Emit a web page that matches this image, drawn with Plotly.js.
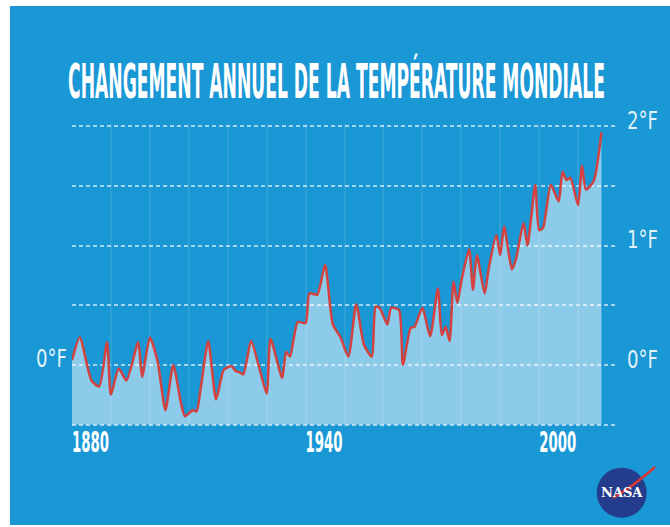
<!DOCTYPE html>
<html><head><meta charset="utf-8">
<script src="https://cdn.plot.ly/plotly-3.0.1.min.js"></script>
<style>
html,body{margin:0;padding:0;background:#fff;width:670px;height:527px;overflow:hidden}
#chart{position:absolute;left:10px;top:6px;width:660px;height:519px}
</style></head><body><div id="chart"></div>
<script>
// ---- data (°F change) ----
const years = [1880,1882,1885,1887,1889,1890,1892,1894,1897,1898,1900,1902,1904,1906,1908,1909,1911,1912,1913,1915,1917,1919,1921,1922,1923,1924,1926,1928,1930,1931,1934,1935,1936,1938,1940,1941,1943,1945,1947,1949,1951,1953,1955,1957,1958,1959,1961,1962,1964,1965,1967,1968,1970,1972,1974,1975,1976,1977,1978,1979,1980,1982,1983,1984,1986,1987,1989,1990,1991,1993,1994,1996,1997,1999,2000,2001,2003,2005,2006,2007,2008,2010,2011,2012,2014,2016];
const tempF = [0.04,0.23,-0.13,-0.18,0.19,-0.25,-0.03,-0.13,0.19,-0.10,0.23,0.03,-0.38,0.00,-0.32,-0.43,-0.38,-0.39,-0.21,0.20,-0.29,-0.04,-0.01,-0.05,-0.06,-0.08,0.20,-0.01,-0.24,0.22,-0.11,0.11,0.07,0.36,0.35,0.60,0.59,0.84,0.34,0.23,0.07,0.51,0.17,0.07,0.49,0.48,0.34,0.48,0.46,0.00,0.31,0.32,0.48,0.24,0.64,0.25,0.32,0.20,0.70,0.52,0.70,0.97,0.63,0.92,0.60,0.80,1.09,0.92,1.16,0.80,0.88,1.19,1.00,1.51,1.13,1.15,1.51,1.37,1.62,1.55,1.57,1.34,1.67,1.47,1.54,1.95];
const xTickVals = [1880,1890,1900,1910,1920,1930,1940,1950,1960,1970,1980,1990,2000,2010,2020];
const xTickText = ['1880','','','','','','1940','','','','','','2000','',''];
const yTickVals = [-0.5,0,0.5,1,1.5,2];
const yTickText = ['','0°F','','1°F','','2°F'];
const leftTickVals = [0];
const leftTickText = ['0°F'];
const titleText = 'CHANGEMENT ANNUEL DE LA TEMPÉRATURE MONDIALE';
const X_RANGE = [1880, 2020];
const Y_RANGE = [-0.52, 2.02];
const FILL_BASE = -0.5;

const FONT = '"DejaVu Sans Condensed", "Liberation Sans Narrow", "DejaVu Sans", sans-serif';
const BG = '#1a97d5';

const traces = [
  {x: years, y: years.map(() => FILL_BASE), mode: 'lines', line: {width: 0, color: 'rgba(0,0,0,0)'}, hoverinfo: 'skip', showlegend: false},
  {x: years, y: tempF, mode: 'lines', fill: 'tonexty', fillcolor: 'rgba(255,255,255,0.5)',
   line: {color: '#d4423f', width: 2.5, shape: 'spline', smoothing: 0.6}, showlegend: false},
  {x: [X_RANGE[0]], y: [0], yaxis: 'y2', mode: 'markers', marker: {opacity: 0}, hoverinfo: 'skip', showlegend: false}
];

const layout = {
  width: 660, height: 519,
  paper_bgcolor: BG, plot_bgcolor: 'rgba(0,0,0,0)',
  margin: {l: 62, r: 53, t: 118.3, b: 98.3},
  showlegend: false,
  title: {text: titleText, font: {family: FONT, size: 48, color: '#ffffff', weight: 700},
          x: 0.4947, xref: 'container', xanchor: 'center', y: 0.855, yref: 'container', yanchor: 'middle'},
  xaxis: {range: X_RANGE, tickvals: xTickVals, ticktext: xTickText, showgrid: true,
          gridcolor: 'rgba(255,255,255,0.09)', gridwidth: 2, zeroline: false, showline: false, ticks: '',
          ticklabelposition: 'outside right', ticklabelstandoff: -5,
          tickfont: {family: FONT, size: 29, color: '#ffffff', weight: 700}, fixedrange: true},
  yaxis: {range: Y_RANGE, side: 'right', tickvals: yTickVals, ticktext: yTickText,
          gridcolor: 'rgba(255,255,255,0.6)', gridwidth: 2, griddash: '4px,3px', zeroline: false, showline: false,
          ticks: '', ticklabelposition: 'outside top', ticklabelstandoff: 9, ticklabelshift: 11,
          tickfont: {family: FONT, size: 24, color: 'rgba(255,255,255,0.9)'}, fixedrange: true},
  yaxis2: {range: Y_RANGE, overlaying: 'y', side: 'left', tickvals: leftTickVals, ticktext: leftTickText,
           showgrid: false, zeroline: false, showline: false, ticks: '', ticklabelposition: 'outside top',
           ticklabelstandoff: 4, ticklabelshift: 10,
           tickfont: {family: FONT, size: 24, color: 'rgba(255,255,255,0.9)'}, fixedrange: true},
  shapes: [
    {type: 'circle', xref: 'paper', yref: 'paper', xsizemode: 'pixel', ysizemode: 'pixel', xanchor: 1, yanchor: 0,
     x0: -20.3, x1: 29.7, y0: -90.7, y1: -40.7, fillcolor: '#233d8c', line: {width: 0}, layer: 'above'},
    {type: 'path', xref: 'paper', yref: 'paper', xsizemode: 'pixel', ysizemode: 'pixel', xanchor: 1, yanchor: 0,
     path: 'M -4 -71 Q 18 -58 38 -40', line: {color: '#d63a36', width: 2.5}, layer: 'above'}
  ],
  annotations: [
    {xref: 'paper', yref: 'paper', x: 1, y: 0, xshift: 4.7, yshift: -65.7, xanchor: 'center', yanchor: 'middle',
     showarrow: false, text: 'NASA',
     font: {family: '"DejaVu Serif", serif', size: 13, color: '#ffffff', weight: 700}}
  ]
};

function squeeze(sel, k) {
  document.querySelectorAll(sel).forEach(t => {
    if (!t.textContent) return;
    const w = t.getComputedTextLength();
    t.setAttribute('textLength', (w * k).toFixed(1));
    t.setAttribute('lengthAdjust', 'spacingAndGlyphs');
  });
}
function scaleTitle(target) {
  const t = document.querySelector('.gtitle');
  if (!t) return;
  const w = t.getComputedTextLength();
  const k = target / w;
  const cx = parseFloat(t.getAttribute('x')) || 0;
  const prev = t.getAttribute('transform') || '';
  t.setAttribute('transform', prev + ` translate(${cx},0) scale(${k.toFixed(4)},1) translate(${-cx},0)`);
}

Plotly.newPlot('chart', traces, layout, {displayModeBar: false, staticPlot: true}).then(() => {
  scaleTitle(537);
  const first = [...document.querySelectorAll('.xtick text')].find(t => t.textContent === '1880');
  const kx = first ? 37 / first.getComputedTextLength() : 0.6;
  squeeze('.xtick text', kx);
  const ylab = [...document.querySelectorAll('.y2tick text')].find(t => t.textContent);
  const ky = ylab ? 31 / ylab.getComputedTextLength() : 0.7;
  squeeze('.ytick text', ky);
  squeeze('.y2tick text', ky);
});
</script></body></html>
